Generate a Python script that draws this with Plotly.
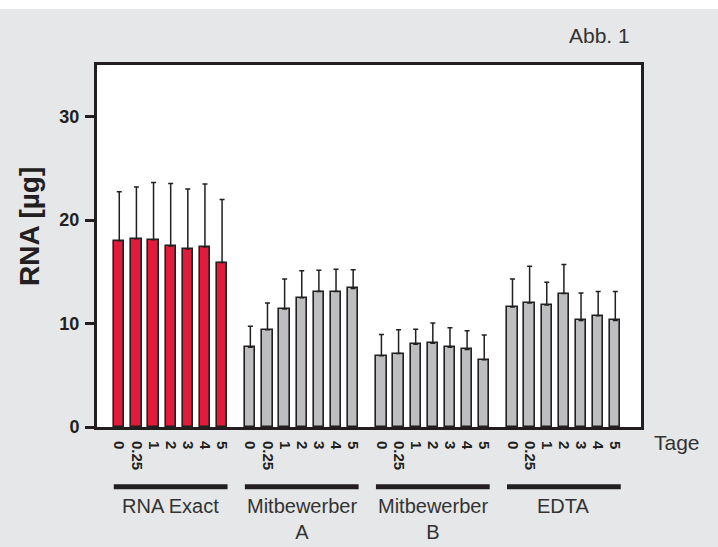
import plotly.graph_objects as go

# ---- data ----
groups = ["RNA Exact", "Mitbewerber<br>A", "Mitbewerber<br>B", "EDTA"]
days = ["0", "0.25", "1", "2", "3", "4", "5"]

rna_exact = [18.0, 18.2, 18.1, 17.5, 17.2, 17.4, 15.9]
rna_exact_sd = [4.75, 5.0, 5.55, 6.05, 5.8, 6.1, 6.1]
mitb_a = [7.7, 9.4, 11.4, 12.5, 13.1, 13.1, 13.4]
mitb_a_sd = [2.05, 2.6, 2.9, 2.6, 2.05, 2.15, 1.8]
mitb_b = [6.9, 7.1, 8.0, 8.1, 7.7, 7.5, 6.5]
mitb_b_sd = [2.05, 2.3, 1.45, 1.95, 1.9, 1.8, 2.4]
edta = [11.6, 12.0, 11.8, 12.9, 10.3, 10.75, 10.3]
edta_sd = [2.7, 3.55, 2.2, 2.8, 2.65, 2.35, 2.8]

series = [rna_exact, mitb_a, mitb_b, edta]
series_sd = [rna_exact_sd, mitb_a_sd, mitb_b_sd, edta_sd]
colors = ["#e31b3b", "#bcbec0", "#bcbec0", "#bcbec0"]

y_ticks = [0, 10, 20, 30]

# ---- layout geometry ----
W, H = 718, 547
ML, MR, MT, MB = 97, 77, 65, 120
PW, PH = W - ML - MR, H - MT - MB
GROUP_STEP = 7.65
DARK = "#231f20"
TEXT = "#333333"
BG = "#e6e7e8"
FONT = "Liberation Sans, Arial"


def px_x(px):
    return (px - ML) / PW


def px_y(py):
    return (H - MB - py) / PH


fig = go.Figure()
tickvals, ticktext = [], []
for g, (vals, sds, col) in enumerate(zip(series, series_sd, colors)):
    xs = [g * GROUP_STEP + i for i in range(len(vals))]
    tickvals += xs
    ticktext += days
    fig.add_trace(go.Bar(
        x=xs, y=vals, width=0.6,
        marker=dict(color=col, line=dict(color=DARK, width=1.6)),
        error_y=dict(type="data", array=sds, arrayminus=[0] * len(sds),
                     symmetric=False, color=DARK, thickness=1.5, width=2.5),
        showlegend=False, hoverinfo="skip",
    ))

shapes = []
annotations = []
for g, name in enumerate(groups):
    x0 = g * GROUP_STEP - 0.32
    x1 = g * GROUP_STEP + 6 + 0.32
    shapes.append(dict(type="line", xref="x", yref="paper", x0=x0, x1=x1,
                       y0=px_y(486.7), y1=px_y(486.7),
                       line=dict(color=DARK, width=5)))
    xc = g * GROUP_STEP + 3
    annotations.append(dict(text=name, xref="x", yref="paper", x=xc, y=px_y(494),
                            showarrow=False, xanchor="center", yanchor="top",
                            borderpad=0,
                            font=dict(size=20, color=TEXT, family=FONT)))

# white strip at top
shapes.append(dict(type="rect", xref="paper", yref="paper",
                   x0=px_x(-10), x1=px_x(W + 10), y0=px_y(9), y1=px_y(-10),
                   fillcolor="white", line=dict(width=0), layer="above"))

annotations += [
    dict(text="<b>RNA [µg]</b>", xref="paper", yref="paper", x=px_x(29), y=px_y(227),
         textangle=-90, showarrow=False, xanchor="center", yanchor="middle",
         font=dict(size=28, color=DARK, family=FONT)),
    dict(text="Abb. 1", xref="paper", yref="paper", x=px_x(599), y=px_y(35),
         showarrow=False, xanchor="center", yanchor="middle",
         font=dict(size=21, color=TEXT, family=FONT)),
    dict(text="Tage", xref="paper", yref="paper", x=px_x(677), y=px_y(443),
         showarrow=False, xanchor="center", yanchor="middle",
         font=dict(size=21, color=TEXT, family=FONT)),
]

fig.update_layout(
    width=W, height=H,
    margin=dict(l=ML, r=MR, t=MT, b=MB),
    paper_bgcolor=BG, plot_bgcolor="white",
    shapes=shapes, annotations=annotations,
    bargap=0,
    xaxis=dict(range=[-1.3, 3 * GROUP_STEP + 6 + 1.5], tickvals=tickvals, ticktext=ticktext,
               tickangle=90, ticks="", showgrid=False, zeroline=False,
               showline=True, linewidth=3, linecolor=DARK, mirror=True,
               ticklabelstandoff=8,
               tickfont=dict(size=15, color=DARK, family=FONT, weight="bold")),
    yaxis=dict(range=[0, 35], tickvals=y_ticks, ticks="outside", ticklen=9, tickwidth=3,
               tickcolor=DARK, showgrid=False, zeroline=False,
               showline=True, linewidth=3, linecolor=DARK, mirror=True,
               ticklabelstandoff=2,
               tickfont=dict(size=18, color=DARK, family=FONT, weight="bold")),
)

fig.write_html("out.html", config={"displayModeBar": False},
               post_script="document.body.style.margin='0';")
